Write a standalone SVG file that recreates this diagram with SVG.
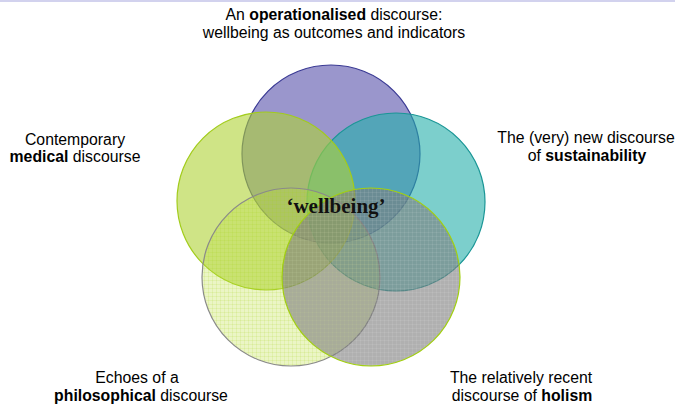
<svg xmlns="http://www.w3.org/2000/svg" width="675" height="406" viewBox="0 0 675 406">
  <defs>
    <pattern id="gridPhil" x="0" y="0" width="4" height="4" patternUnits="userSpaceOnUse">
      <rect width="4" height="4" fill="#bfe040" fill-opacity="0.3"/>
      <rect width="4" height="1" fill="#a6cc1e" fill-opacity="0.14"/>
      <rect width="1" height="4" fill="#a6cc1e" fill-opacity="0.14"/>
    </pattern>
    <pattern id="gridHol" x="0" y="0" width="4" height="4" patternUnits="userSpaceOnUse">
      <rect width="4" height="4" fill="#7c7c7c" fill-opacity="0.6"/>
      <rect width="4" height="1" fill="#ffffff" fill-opacity="0.08"/>
      <rect width="1" height="4" fill="#ffffff" fill-opacity="0.08"/>
    </pattern>
  </defs>
  <style>
    .lbl { font-family: "Liberation Sans", Arial, sans-serif; font-size: 15.8px; fill: #000; text-anchor: middle; }
    .b { font-weight: bold; }
    .circ { stroke-width: 1.2; }
    .center { font-family: "Liberation Serif", "Times New Roman", serif; font-weight: bold; font-size: 21px; fill: #111; text-anchor: middle; }
  </style>
  <rect x="0" y="0" width="675" height="2" fill="#d2d2ee"/>

  <g id="node-operationalised">
    <circle class="circ" cx="331" cy="154" r="89" fill="#5750aa" fill-opacity="0.6" stroke="#3a3a94"/>
    <text class="lbl" x="334" y="20">An <tspan class="b">operationalised</tspan> discourse:</text>
    <text class="lbl" x="334" y="38">wellbeing as outcomes and indicators</text>
  </g>

  <g id="node-sustainability">
    <circle class="circ" cx="396" cy="202" r="89" fill="#25afaa" fill-opacity="0.6" stroke="#1a9696"/>
    <text class="lbl" x="586" y="143">The (very) new discourse</text>
    <text class="lbl" x="587" y="161">of <tspan class="b">sustainability</tspan></text>
  </g>

  <g id="node-medical">
    <circle class="circ" cx="266" cy="201" r="89" fill="#afd235" fill-opacity="0.6" stroke="#a2cc1c"/>
    <text class="lbl" x="75" y="145">Contemporary</text>
    <text class="lbl" x="75" y="162"><tspan class="b">medical</tspan> discourse</text>
  </g>

  <g id="node-philosophical">
    <circle class="circ" cx="291" cy="277" r="89" fill="url(#gridPhil)" stroke="#8a8a8a"/>
    <text class="lbl" x="137" y="383">Echoes of a</text>
    <text class="lbl" x="141" y="401"><tspan class="b">philosophical</tspan> discourse</text>
  </g>

  <g id="node-holism">
    <circle class="circ" cx="371" cy="277" r="89" fill="url(#gridHol)" stroke="#a2d010"/>
    <text class="lbl" x="521" y="383">The relatively recent</text>
    <text class="lbl" x="522" y="401">discourse of <tspan class="b">holism</tspan></text>
  </g>

  <g id="node-wellbeing">
    <text class="center" x="336" y="213">‘wellbeing’</text>
  </g>
</svg>
